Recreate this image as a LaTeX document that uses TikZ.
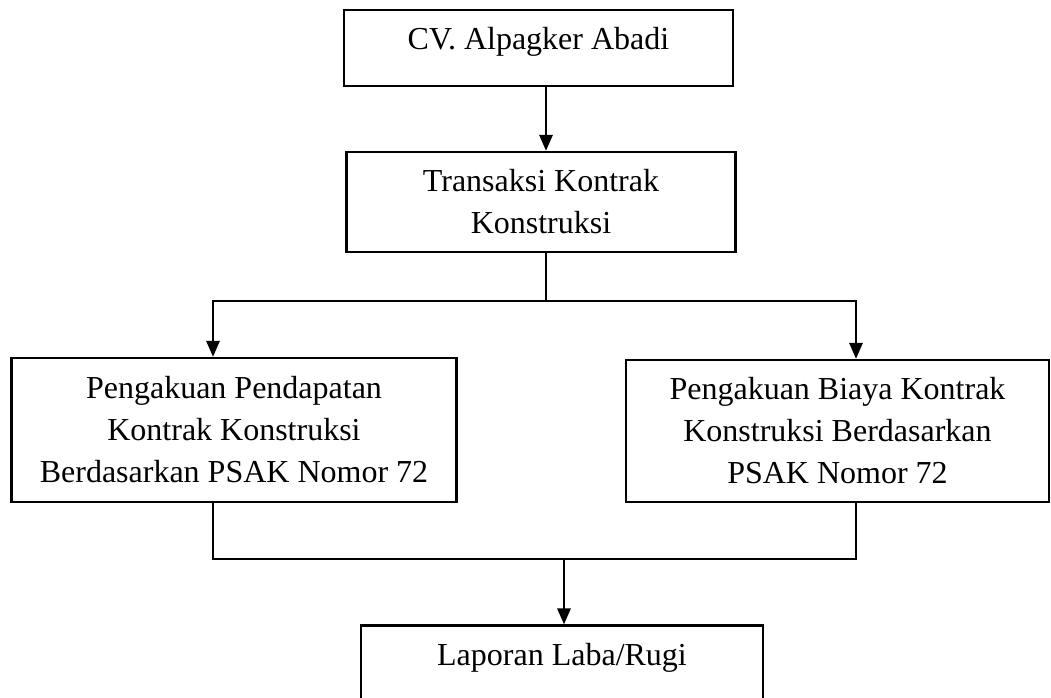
\documentclass[tikz,border=0pt]{standalone}
\usepackage{fontspec}
\setmainfont{Liberation Serif}
\usetikzlibrary{arrows.meta}

\begin{document}
\begin{tikzpicture}[x=0.375pt, y=-0.375pt, line width=0.8pt]
        \tikzstyle{kotak}=[draw, line width=0.9pt, align=center, inner sep=0pt,
          font=\fontsize{12}{15.75}\selectfont];
        \tikzstyle{panah}=[-{Triangle[length=6pt, width=5pt]}];

        \useasboundingbox (0,0) rectangle (1051,698);
        \clip (0,0) rectangle (1051,698);

        \node[kotak, minimum width=145.9pt, minimum height=28.5pt, text depth=7pt] (cv) at (538.5,48) {CV. Alpagker Abadi};
        \node[kotak, minimum width=145.9pt, minimum height=37.5pt] (transaksi) at (541,202) {Transaksi Kontrak\\Konstruksi};
        \node[kotak, minimum width=166.9pt, minimum height=54pt] (pendapatan) at (234,430) {Pengakuan Pendapatan\\Kontrak Konstruksi\\Berdasarkan PSAK Nomor 72};
        \node[kotak, minimum width=158.6pt, minimum height=53.25pt] (biaya) at (837.5,431) {Pengakuan Biaya Kontrak\\Konstruksi Berdasarkan\\PSAK Nomor 72};
        \node[kotak, minimum width=150.75pt, minimum height=37.5pt, text depth=16pt] (labarugi) at (562,675.5) {Laporan Laba/Rugi};

        \coordinate (cabang) at (546,301);
        \coordinate (gabung) at (564,559);
        \coordinate (kiri) at (213,0);
        \coordinate (kanan) at (856,0);

        \draw[panah] (cv.south -| cabang) -- (transaksi.north -| cabang);
        \draw (transaksi.south -| cabang) -- (cabang);
        \draw[panah] (cabang) -| (pendapatan.north -| kiri);
        \draw[panah] (cabang) -| (biaya.north -| kanan);
        \draw (pendapatan.south -| kiri) |- (gabung) -| (biaya.south -| kanan);
        \draw[panah] (gabung) -- (labarugi.north -| gabung);
    \end{tikzpicture}
\end{document}
